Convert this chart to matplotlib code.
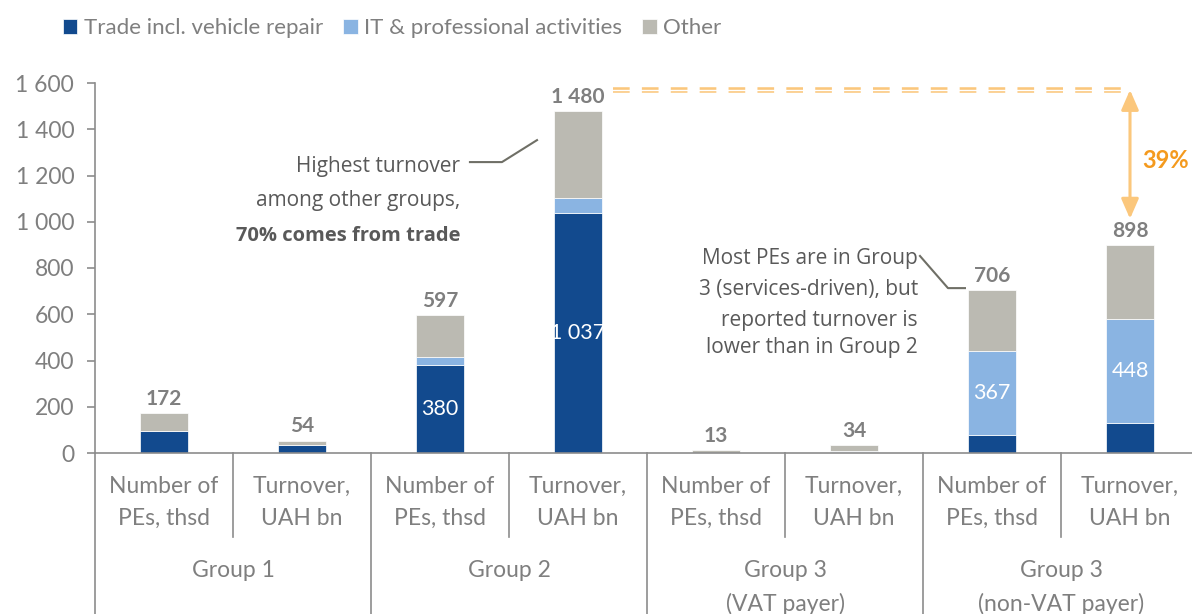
import numpy as np
import matplotlib as mpl
import matplotlib.pyplot as plt

mpl.rcParams.update({
    "font.family": ["Lato", "DejaVu Sans"],
    "font.size": 16,
})

# data
categories = ["Number of\nPEs, thsd", "Turnover,\nUAH bn"] * 4
groups = ["Group 1", "Group 2", "Group 3\n(VAT payer)", "Group 3\n(non-VAT payer)"]
trade = np.array([95, 35, 380, 1037, 0.5, 6, 76, 131])
it_prof = np.array([2, 1, 35, 67, 0.5, 1, 367, 448])
other = np.array([75, 18, 182, 376, 12, 27, 263, 319])
totals = [172, 54, 597, 1480, 13, 34, 706, 898]
gap_label = "39%"

c_trade = "#124A8E"
c_it = "#8AB4E2"
c_other = "#BBBAB2"
c_text = "#7F7F7F"
c_note = "#595959"
c_orange = "#F49A1E"
c_orange_l = "#FBC77C"

fig = plt.figure(figsize=(11.92, 6.14), dpi=100)
ax = fig.add_axes([95 / 1192, 161 / 614, 1104 / 1192, 370 / 614])

x = np.arange(len(categories))
w = 0.35
b1 = ax.bar(x, trade, w, color=c_trade, edgecolor="white", linewidth=0.5, label="Trade incl. vehicle repair")
b2 = ax.bar(x, it_prof, w, bottom=trade, color=c_it, edgecolor="white", linewidth=0.5, label="IT & professional activities")
b3 = ax.bar(x, other, w, bottom=trade + it_prof, color=c_other, edgecolor="white", linewidth=0.5, label="Other")

def fmt(v):
    return f"{v:,.0f}".replace(",", " ")

# totals on top
for xi, top, t in zip(x, trade + it_prof + other, totals):
    ax.annotate(fmt(t), (xi, top), xytext=(0, 3), textcoords="offset points",
                ha="center", va="bottom", fontweight="bold", color=c_text, fontsize=15)

# inner labels for big segments
for xi, v in zip(x, trade):
    if v > 300:
        ax.text(xi, v / 2, fmt(v), ha="center", va="center", color="white", fontsize=15.5)
for xi, b, v in zip(x, trade, it_prof):
    if v > 300:
        ax.text(xi, b + v / 2, fmt(v), ha="center", va="center", color="white", fontsize=15.5)

ax.set_xlim(-0.5, len(categories) - 0.5)
ax.set_ylim(0, 1600)
ax.set_yticks(np.arange(0, 1601, 200))
ax.set_yticklabels([fmt(v) for v in np.arange(0, 1601, 200)])
ax.set_xticks([])
for s in ["top", "right"]:
    ax.spines[s].set_visible(False)
for s in ["left", "bottom"]:
    ax.spines[s].set_color("#8C8C8C")
    ax.spines[s].set_linewidth(1.2)
ax.tick_params(axis="y", colors="#8C8C8C", labelcolor=c_text, length=6, width=1.2, labelsize=16.5, pad=9)

# category / group labels below
tr = ax.get_xaxis_transform()
for xi, lab in zip(x, categories):
    ax.text(xi, -0.062, lab, transform=tr, ha="center", va="top", color=c_text,
            fontsize=16.5, linespacing=1.65)
for gi, g in enumerate(groups):
    ax.text(2 * gi + 0.5, -0.29, g, transform=tr, ha="center", va="top", color=c_text,
            fontsize=16.5, linespacing=1.65)
for gi in range(len(groups)):
    ax.plot([2 * gi + 0.5] * 2, [0, -0.228], transform=tr, color="#8C8C8C", lw=1.2, clip_on=False)
for gi in range(len(groups) + 1):
    ax.plot([2 * gi - 0.5] * 2, [0, -0.5], transform=tr, color="#8C8C8C", lw=1.2, clip_on=False)

# callout 1
note_font = ["Open Sans", "DejaVu Sans"]
ax.text(2.145, 1237, "Highest turnover", ha="right", va="center", color=c_note, fontsize=15, family=note_font)
ax.text(2.145, 1090, "among other groups,", ha="right", va="center", color=c_note, fontsize=15, family=note_font)
ax.text(2.145, 938, "70% comes from trade", ha="right", va="center", color=c_note, fontsize=14.5,
        fontweight="bold", family=note_font)
ax.plot([2.217, 2.449, 2.703], [1258, 1258, 1353], color="#6F6F66", lw=1.5)

# callout 2
lines2 = ["Most PEs are in Group", "3 (services-driven), but", "reported turnover is", "lower than in Group 2"]
for ly, s in zip([843, 705, 575, 458], lines2):
    ax.text(5.464, ly, s, ha="right", va="center", color=c_note, fontsize=15, family=note_font)
ax.plot([5.478, 5.681, 5.804], [852, 713, 713], color="#6F6F66", lw=1.5)

# gap between group 2 turnover and group 3 non-VAT turnover
y_ref = totals[3] + 90
ax.plot([3.25, 7.0], [y_ref, y_ref], color=c_orange_l, lw=4, ls=(0, (3, 2.2)), clip_on=False)
ax.plot([3.25, 7.0], [y_ref, y_ref], color="white", lw=1, clip_on=False)
ax.annotate("", xy=(7.0, y_ref), xytext=(7.0, totals[7] + 115),
            arrowprops=dict(arrowstyle="<|-|>,head_length=0.8,head_width=0.35", color=c_orange_l,
                            lw=2.2, mutation_scale=15, shrinkA=0, shrinkB=0))
ax.text(7.09, 1267, gap_label, ha="left", va="center", color=c_orange, fontsize=17, fontweight="bold")

fig.legend(handles=[b1, b2, b3], loc="upper left", bbox_to_anchor=(0.036, 1.003), ncol=3,
           frameon=False, handlelength=0.65, handleheight=0.65, handletextpad=0.3,
           columnspacing=0.9, labelcolor=c_text, fontsize=16)

plt.savefig("out.png", dpi=100)
